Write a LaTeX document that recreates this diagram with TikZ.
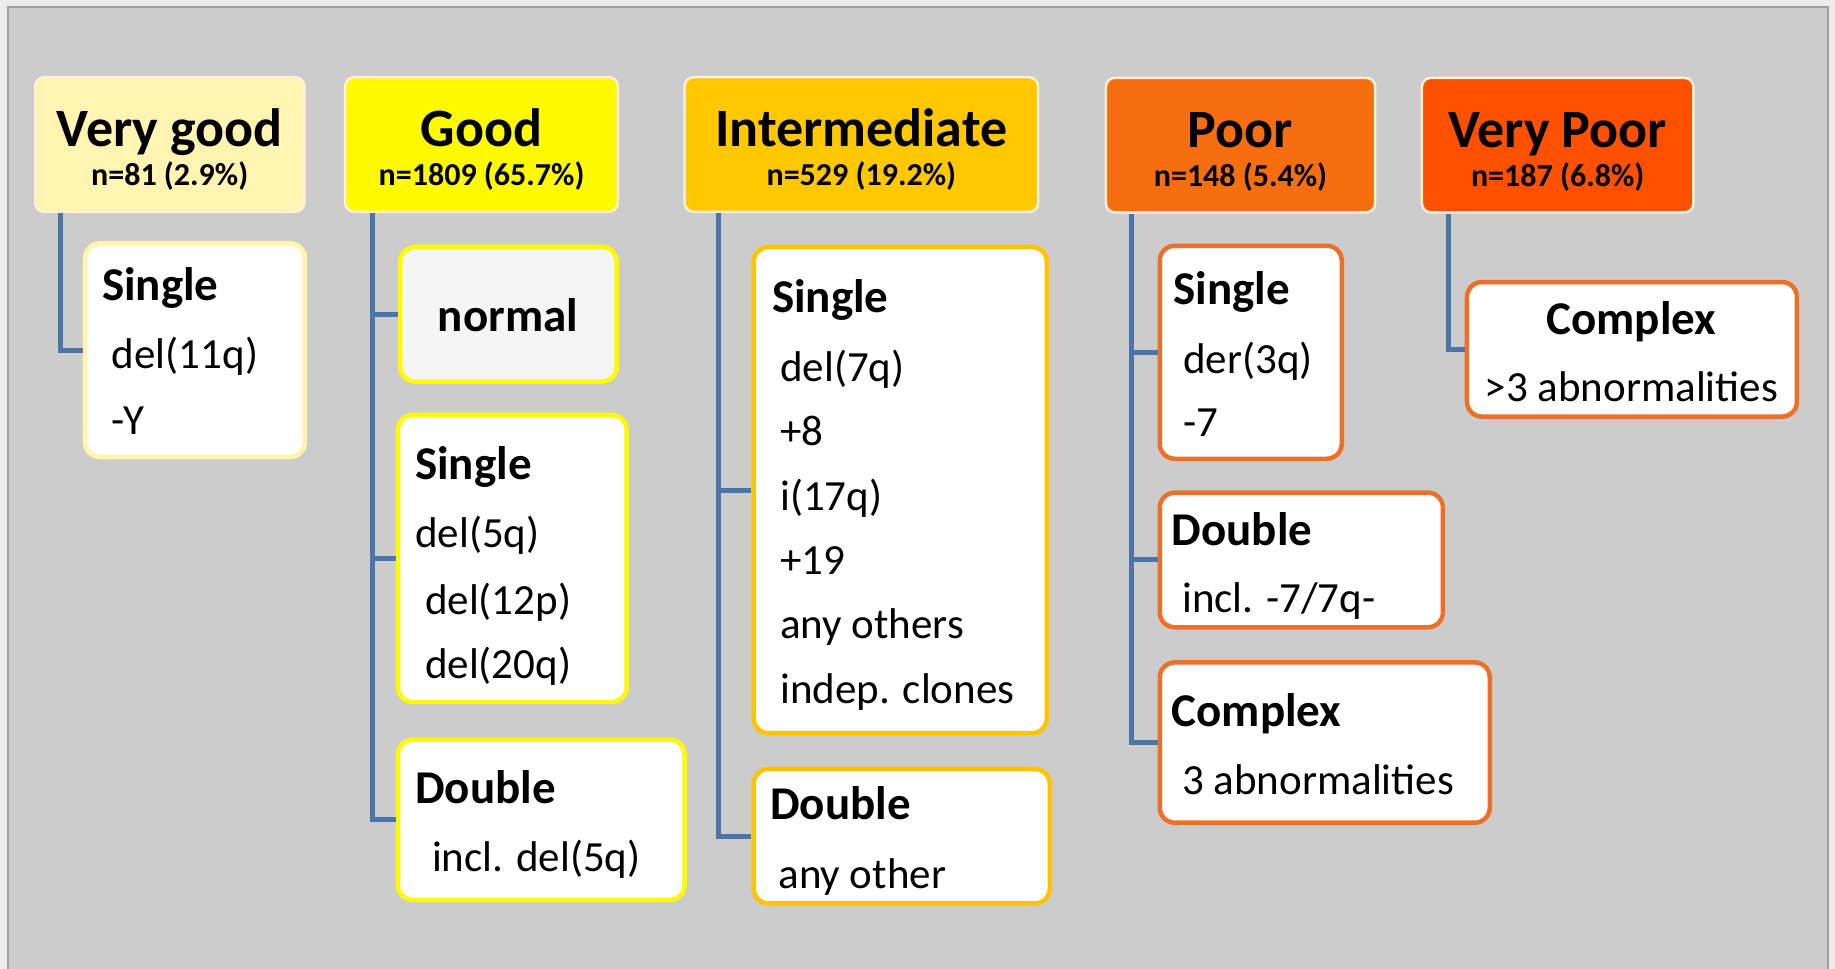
\documentclass[tikz,border=0pt]{standalone}
\usepackage{fontspec}
\setmainfont{Carlito}
\definecolor{outer}{RGB}{236,236,236}
\definecolor{framegray}{RGB}{204,204,204}
\definecolor{frameedge}{RGB}{160,160,160}
\definecolor{cvg}{RGB}{255,244,178}
\definecolor{cgood}{RGB}{255,250,0}
\definecolor{cint}{RGB}{255,200,0}
\definecolor{cpoor}{RGB}{246,110,16}
\definecolor{cvp}{RGB}{255,80,0}
\definecolor{hdredge}{RGB}{255,240,215}
\definecolor{bvg}{RGB}{255,246,170}
\definecolor{bgood}{RGB}{255,250,0}
\definecolor{bint}{RGB}{255,195,0}
\definecolor{bpoor}{RGB}{236,112,40}
\definecolor{connblue}{RGB}{76,116,166}
\definecolor{normfill}{RGB}{245,245,245}
\begin{document}
\begin{tikzpicture}[x=1.1703pt,y=-1.1703pt,
  hdr/.style={draw=hdredge, line width=2.5pt, rounded corners=9pt, inner sep=0pt},
  kid/.style={draw=#1, fill=white, line width=4.5pt, rounded corners=15pt, inner sep=0pt},
  conn/.style={draw=connblue, line width=5pt},
  ttl/.style={font=\fontsize{54}{60}\selectfont\bfseries, anchor=base, inner sep=0pt},
  sub/.style={font=\fontsize{32}{36}\selectfont\bfseries, anchor=base, inner sep=0pt},
  hd/.style={font=\fontsize{47}{54}\selectfont\bfseries, anchor=base west, inner sep=0pt},
  hdc/.style={font=\fontsize{47}{54}\selectfont\bfseries, anchor=base, inner sep=0pt},
  tx/.style={font=\fontsize{43}{50}\selectfont, anchor=base west, inner sep=0pt},
  txc/.style={font=\fontsize{43}{50}\selectfont, anchor=base, inner sep=0pt}]
\useasboundingbox (0,0) rectangle (1568,828);
\fill[outer] (0,0) rectangle (1568,828);
\draw[fill=framegray, draw=frameedge, line width=1.5pt] (7,6) rectangle (1562,840);

% headers
\node[hdr, fill=cvg, minimum width=269.2pt, minimum height=134.6pt] (vg) at (145,123.5) {};
\node[hdr, fill=cgood, minimum width=272.7pt, minimum height=134.6pt] (good) at (411.5,123.5) {};
\node[hdr, fill=cint, minimum width=353.4pt, minimum height=134.6pt] (inter) at (736,123.5) {};
\node[hdr, fill=cpoor, minimum width=269.2pt, minimum height=134.6pt] (poor) at (1060,124) {};
\node[hdr, fill=cvp, minimum width=271.5pt, minimum height=134.6pt] (vpoor) at (1331,124) {};

\node[ttl] (vgt) at (145,125.5) {Very good};
\node[sub] (vgn) at (145,158.5) {n=81 (2.9\%)};
\node[ttl] (goodt) at (411.5,125.5) {Good};
\node[sub] (goodn) at (411.5,158.5) {n=1809 (65.7\%)};
\node[ttl] (intert) at (736,125.5) {Intermediate};
\node[sub] (intern) at (736,158.5) {n=529 (19.2\%)};
\node[ttl] (poort) at (1060,126) {Poor};
\node[sub] (poorn) at (1060,159) {n=148 (5.4\%)};
\node[ttl] (vpoort) at (1331,126) {Very Poor};
\node[sub] (vpoorn) at (1331,159) {n=187 (6.8\%)};

% child boxes
\node[kid=bvg, minimum width=220pt, minimum height=213.6pt] (vgS) at (166.6,299.25) {};
\node[kid=bgood, fill=normfill, minimum width=216.5pt, minimum height=134.6pt] (gN) at (434.5,268.5) {};
\node[kid=bgood, minimum width=228.8pt, minimum height=287pt] (gS) at (437.75,477.2) {};
\node[kid=bgood, minimum width=286.7pt, minimum height=160.3pt] (gD) at (462.5,700.5) {};
\node[kid=bint, minimum width=293.2pt, minimum height=486.3pt] (iS) at (769.25,418.75) {};
\node[kid=bint, minimum width=296.1pt, minimum height=134.6pt] (iD) at (770.5,714.5) {};
\node[kid=bpoor, minimum width=182pt, minimum height=213pt] (pS) at (1068.75,301) {};
\node[kid=bpoor, minimum width=283.2pt, minimum height=134.6pt] (pD) at (1112,478.5) {};
\node[kid=bpoor, minimum width=330pt, minimum height=160.3pt] (pC) at (1132,634.5) {};
\node[kid=bpoor, minimum width=330pt, minimum height=134.6pt] (vC) at (1394.5,298.5) {};

% connectors
\coordinate (vgT) at ([xshift=26.9pt]vg.south west);
\coordinate (gT) at ([xshift=28.8pt]good.south west);
\coordinate (iT) at ([xshift=35.1pt]inter.south west);
\coordinate (pT) at ([xshift=26.9pt]poor.south west);
\coordinate (vT) at ([xshift=28.1pt]vpoor.south west);
\draw[conn] (vgT) |- (vgS.west);
\draw[conn] (gT) |- (gD.west);
\draw[conn] (gT |- gN.west) -- (gN.west);
\draw[conn] (gT |- gS.west) -- (gS.west);
\draw[conn] (iT) |- (iD.west);
\draw[conn] (iT |- iS.west) -- (iS.west);
\draw[conn] (pT) |- (pC.west);
\draw[conn] (pT |- pS.west) -- (pS.west);
\draw[conn] (pT |- pD.west) -- (pD.west);
\draw[conn] (vT) |- (vC.west);

% texts
\node[hd] (vgS1) at (87,257) {Single};
\node[tx] (vgS2) at (95.5,315) {del(11q)};
\node[tx] (vgS3) at (95.5,371) {-Y};

\node[hdc] (gN1) at (434,283) {normal};

\node[hd] (gS1) at (354.6,409.5) {Single};
\node[tx] (gS2) at (354.6,468) {del(5q)};
\node[tx] (gS3) at (363,525) {del(12p)};
\node[tx] (gS4) at (363,579.5) {del(20q)};

\node[hd] (gD1) at (354.6,687) {Double};
\node[tx] (gD2) at (369,745) {incl. del(5q)};

\node[hd] (iS1) at (659.5,267) {Single};
\node[tx] (iS2) at (666.5,326) {del(7q)};
\node[tx] (iS3) at (666.5,380.5) {+8};
\node[tx] (iS4) at (666.5,436) {i(17q)};
\node[tx] (iS5) at (666.5,491) {+19};
\node[tx] (iS6) at (666.5,546) {any others};
\node[tx] (iS7) at (666.5,601) {indep. clones};

\node[hd] (iD1) at (658,700) {Double};
\node[tx] (iD2) at (665,759) {any other};

\node[hd] (pS1) at (1002.5,260) {Single};
\node[tx] (pS2) at (1011,319) {der(3q)};
\node[tx] (pS3) at (1011,373) {-7};

\node[hd] (pD1) at (1001,466) {Double};
\node[tx] (pD2) at (1010,523) {incl. -7/7q-};

\node[hd] (pC1) at (1001,621) {Complex};
\node[tx] (pC2) at (1010,679) {3 abnormalities};

\node[hdc] (vC1) at (1394,286) {Complex};
\node[txc] (vC2) at (1394,343) {>3 abnormalities};
\end{tikzpicture}
\end{document}
